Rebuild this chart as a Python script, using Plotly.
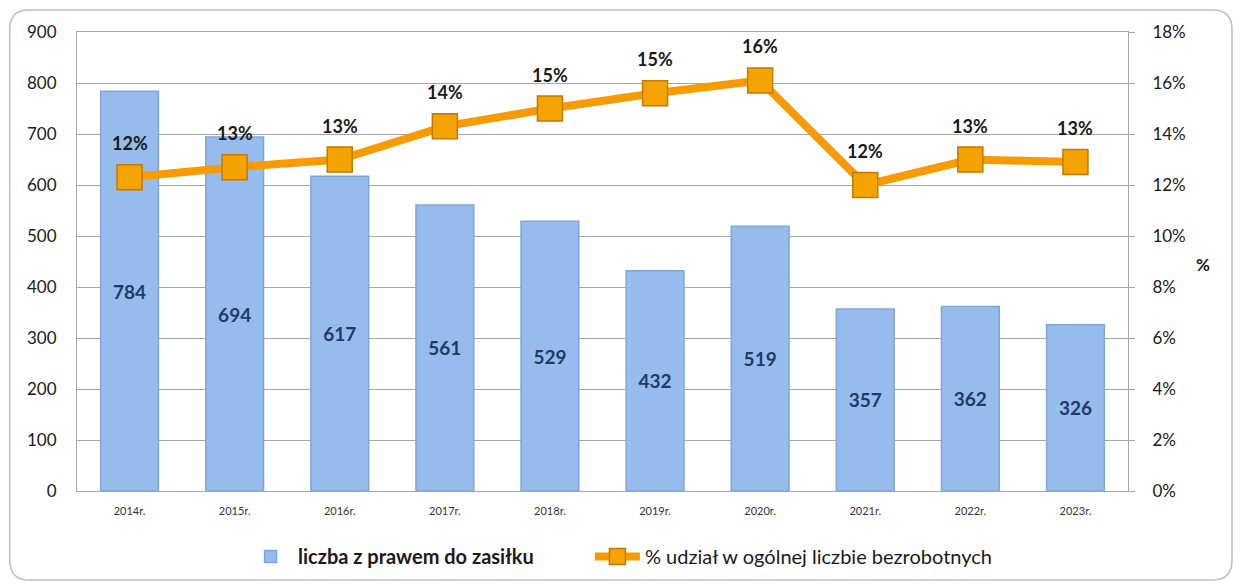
import plotly.graph_objects as go

years = ["2014r.", "2015r.", "2016r.", "2017r.", "2018r.", "2019r.", "2020r.", "2021r.", "2022r.", "2023r."]
benefit_count = [784, 694, 617, 561, 529, 432, 519, 357, 362, 326]
share_pct = [12.3, 12.7, 13.0, 14.3, 15.0, 15.6, 16.1, 12.0, 13.0, 12.9]
share_labels = ["12%", "13%", "13%", "14%", "15%", "15%", "16%", "12%", "13%", "13%"]

FONT = "Lato, 'Open Sans', sans-serif"
GRID = "#A6A6A6"

fig = go.Figure()
fig.add_trace(go.Bar(
    x=years, y=benefit_count, name="<b>liczba z prawem do zasiłku</b>",
    marker=dict(color="#95BCEC", line=dict(color="#7FA6D8", width=1.5)),
    width=0.55, legend="legend",
    texttemplate="<b>%{y}</b>", textposition="inside", insidetextanchor="middle",
    textfont=dict(color="#1F3B68", size=19, family=FONT),
))
fig.add_trace(go.Scatter(
    x=years, y=share_pct, name="% udział w ogólnej liczbie bezrobotnych", yaxis="y2",
    mode="lines+markers", legend="legend2",
    line=dict(color="#F79B00", width=8),
    marker=dict(symbol="square", size=25, color="#F5A300", line=dict(color="#C27A00", width=1.5)),
))

for yr, v, lab in zip(years, share_pct, share_labels):
    fig.add_annotation(x=yr, y=v, yref="y2", text=f"<b>{lab}</b>", showarrow=False,
                       yshift=34, font=dict(size=18, color="#1a1a1a", family=FONT))

fig.add_annotation(xref="paper", yref="paper", x=1.08, y=0.493, text="<b>%</b>", showarrow=False,
                   font=dict(size=17, color="#1a1a1a", family=FONT))

# rounded outer frame (paper coords)
fig.add_shape(type="path", xref="paper", yref="paper", layer="below",
              path="M -0.046,1.048 L 1.081,1.048 Q 1.099,1.048 1.099,1.005 L 1.099,-0.150 "
                   "Q 1.099,-0.194 1.081,-0.194 L -0.046,-0.194 Q -0.064,-0.194 -0.064,-0.150 "
                   "L -0.064,1.005 Q -0.064,1.048 -0.046,1.048 Z",
              line=dict(color="#BFBFBF", width=1.5))

legend_style = dict(orientation="h", y=-0.14, yanchor="middle", xanchor="left",
                    font=dict(size=20, family=FONT, color="#1a1a1a"), itemwidth=45,
                    bgcolor="rgba(0,0,0,0)")

fig.update_layout(
    width=1237, height=579,
    margin=dict(l=69, r=117, t=24, b=95),
    plot_bgcolor="white", paper_bgcolor="white",
    font=dict(family=FONT, color="#1a1a1a"),
    showlegend=True,
    legend=dict(x=0.158, **legend_style),
    legend2=dict(x=0.488, **legend_style),
    xaxis=dict(range=[-0.5, 9.5], showgrid=False, showline=True, linecolor=GRID, mirror=True,
               ticklabelstandoff=10,
               tickfont=dict(size=11, family=FONT, color="#333")),
    yaxis=dict(range=[0, 900], dtick=100, showgrid=True, gridcolor=GRID, showline=True,
               linecolor=GRID, mirror=True, tickfont=dict(size=17, family=FONT, color="#1a1a1a"),
               ticks="", ticklabelstandoff=16, zeroline=False),
    yaxis2=dict(range=[0, 18], dtick=2, overlaying="y", side="right", showgrid=False,
                ticksuffix="%", showline=True, linecolor=GRID, ticks="outside", ticklen=6,
                tickcolor=GRID, tickfont=dict(size=17, family=FONT, color="#1a1a1a"),
                ticklabelstandoff=14, zeroline=False),
)

fig.write_html("out.html")
